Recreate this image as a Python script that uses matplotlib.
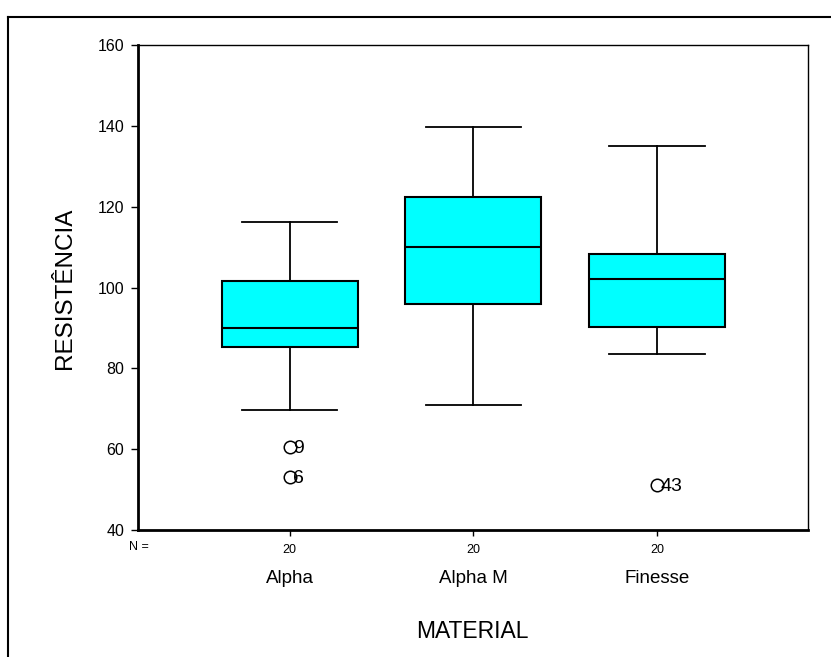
import matplotlib
matplotlib.use("Agg")
import matplotlib.pyplot as plt
from matplotlib.lines import Line2D

# Box plot statistics.
MATERIALS = ["Alpha", "Alpha M", "Finesse"]
N_COUNTS = [20, 20, 20]
WHISKER_LOW = [69.8, 71.0, 83.6]
Q1 = [85.4, 95.8, 90.3]
MEDIANS = [90.1, 109.9, 102.0]
Q3 = [101.5, 122.3, 108.2]
WHISKER_HIGH = [116.3, 139.6, 134.9]
OUTLIER_VALUES = [[60.6, 53.2], [], [51.2]]
OUTLIER_LABELS = [["9", "6"], [], ["43"]]

plt.rcParams["font.family"] = ["Liberation Sans", "DejaVu Sans"]


def main():
    fig = plt.figure(figsize=(8.31, 6.57), dpi=100)
    ax = fig.add_axes([0.166, 0.1933, 0.806, 0.7382])

    stats = []
    for i, name in enumerate(MATERIALS):
        stats.append({
            "label": name,
            "whislo": WHISKER_LOW[i],
            "q1": Q1[i],
            "med": MEDIANS[i],
            "q3": Q3[i],
            "whishi": WHISKER_HIGH[i],
            "fliers": [],
        })
    positions = list(range(1, len(MATERIALS) + 1))

    ax.bxp(stats, positions=positions, widths=0.74, patch_artist=True,
           showfliers=False,
           boxprops=dict(facecolor="#00ffff", edgecolor="black", linewidth=1.5),
           medianprops=dict(color="black", linewidth=1.5),
           whiskerprops=dict(color="black", linewidth=1.3),
           capprops=dict(color="black", linewidth=1.3),
           capwidths=0.52)

    # Outliers: open circle with the case number right next to it.
    for pos, vals, labs in zip(positions, OUTLIER_VALUES, OUTLIER_LABELS):
        for v, lab in zip(vals, labs):
            ax.plot(pos, v, marker="o", markersize=9, markerfacecolor="white",
                    markeredgecolor="black", markeredgewidth=1.1, zorder=4)
            ax.text(pos + 0.018, v, lab, fontsize=14, ha="left",
                    va="center_baseline", zorder=5)

    ax.set_xlim(0.175, 3.82)
    ax.set_ylim(40, 160)
    ax.set_yticks([40, 60, 80, 100, 120, 140, 160])
    ax.tick_params(axis="y", labelsize=11.5, length=5, width=1, pad=5)
    ax.set_xticks(positions)
    ax.set_xticklabels([str(n) for n in N_COUNTS])
    ax.tick_params(axis="x", labelsize=9, length=4, width=1, pad=6)

    for side in ["left", "bottom"]:
        ax.spines[side].set_linewidth(2)
    for side in ["top", "right"]:
        ax.spines[side].set_linewidth(1)

    # "N =" row and category names below the axis.
    fig.text(149 / 831, 1 - 547 / 657, "N =", fontsize=9,
             ha="right", va="center")
    for pos, name in zip(positions, MATERIALS):
        ax.text(pos, -0.082, name, transform=ax.get_xaxis_transform(),
                fontsize=13.5, ha="center", va="top")

    fig.text(472 / 831, 1 - 632 / 657, "MATERIAL", fontsize=16.5,
             ha="center", va="center")
    fig.text(65 / 831, 1 - 288 / 657, "RESISTÊNCIA", fontsize=17.5,
             rotation=90, ha="center", va="center")

    # Outer frame that runs off the right and bottom of the picture.
    fig.add_artist(Line2D([8 / 831, 8 / 831], [0, 1 - 17 / 657],
                          transform=fig.transFigure, color="black", lw=1.5))
    fig.add_artist(Line2D([8 / 831, 1], [1 - 17 / 657, 1 - 17 / 657],
                          transform=fig.transFigure, color="black", lw=1.5))

    fig.savefig("out.png", dpi=100, facecolor="white")


if __name__ == "__main__":
    main()
